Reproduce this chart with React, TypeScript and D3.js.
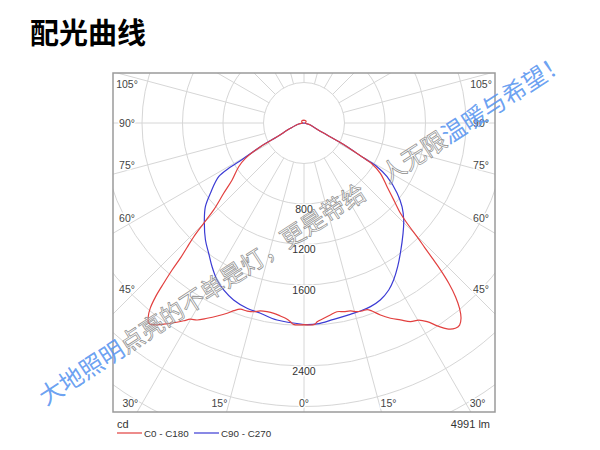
import React from "react";
import * as d3 from "d3";

// ---------- text ----------
const TITLE = "配光曲线";
const UNIT_LABEL = "cd";
const FLUX_LABEL = "4991 lm";
const SERIES_NAMES = ["C0 - C180", "C90 - C270"];
const SERIES_COLORS = ["#e2403f", "#3b3bd4"];
const WATERMARK_PARTS = [
  { text: "大地照明", kind: "blue" },
  { text: "点亮的不单是灯，更是带给　人无限", kind: "gray" },
  { text: "温暖与希望！", kind: "blue" },
];

// ---------- axes ----------
const RADIUS_TICK_LABELS = [800, 1200, 1600, 2400];
const GRID_CIRCLES = [400, 800, 1200, 1600, 2000, 2400, 2800, 3200, 3600];
const ANGLE_TICK_LABELS = [0, 15, 30, 45, 60, 75, 90, 105];
const SPOKE_ANGLES = [0, 15, 30, 45, 60, 75, 90, 105, 120, 135, 150, 165, 180, 195, 210, 225, 240, 255, 270, 285, 300, 315, 330, 345];

// ---------- data (gamma in degrees from nadir, intensity in cd) ----------
// C0 half-plane (right)
const C0_GAMMA = [0, 3, 3.8, 5.8, 7.8, 9.9, 11.9, 13.9, 15.7, 17.2, 18.7, 19.9, 21.7, 23.9, 26.1, 28.2, 30.2, 31.8, 33.3, 34.8, 36.4, 37.6, 38.8, 40.0, 41.1, 42.1, 42.9, 43.5, 44.1, 44.7, 45.8, 46.9, 49.4, 52.5, 56.6, 59.0, 59.6, 61.2, 61.9, 62.5, 64.3, 72.6, 90, 110, 140, 180];
const C0_CD = [1992, 1992, 1967, 1939, 1914, 1892, 1904, 1912, 1936, 1943, 1945, 1975, 2041, 2109, 2166, 2226, 2252, 2308, 2397, 2477, 2519, 2519, 2475, 2390, 2276, 2133, 1980, 1840, 1713, 1607, 1420, 1305, 1167, 1034, 903, 781, 685, 486, 371, 257, 143, 66, 8, 20, 28, 28];
// C180 half-plane (left)
const C180_GAMMA = [0, 3, 3.9, 5.4, 7.0, 9.0, 11.1, 13.1, 14.9, 16.8, 18.9, 20.5, 22.0, 24.2, 26.4, 28.5, 30.1, 31.3, 33.1, 34.9, 36.7, 37.8, 38.8, 39.7, 40.5, 41.2, 41.9, 42.5, 43.2, 44.1, 45.0, 46.1, 48.8, 51.6, 56.2, 58.9, 61.5, 63.0, 68.7, 79, 90, 110, 140, 180];
const C180_CD = [1992, 1992, 1967, 1938, 1920, 1903, 1899, 1906, 1929, 1940, 1944, 1979, 2027, 2090, 2153, 2214, 2240, 2286, 2355, 2421, 2487, 2503, 2455, 2377, 2258, 2104, 1951, 1800, 1690, 1564, 1401, 1238, 1054, 906, 776, 676, 490, 298, 144, 53, 8, 22, 30, 28];
// C90 half-plane (right)
const C90_GAMMA = [0, 3.7, 8.6, 13.6, 16.7, 19.9, 23.3, 26.9, 29.7, 33.1, 36.5, 41.9, 45.8, 49.5, 53.0, 57.1, 59.1, 59.6, 61.2, 61.9, 62.5, 64.3, 72.6, 90];
const C90_CD = [1990, 1989, 1961, 1944, 1939, 1929, 1904, 1850, 1786, 1694, 1600, 1465, 1374, 1274, 1152, 977, 841, 685, 486, 371, 257, 143, 66, 0];
// C270 half-plane (left)
const C270_GAMMA = [0, 7.8, 12.9, 17.1, 21.7, 25.7, 29.0, 32.6, 36.2, 40.1, 45.8, 49.7, 53.1, 57.8, 59.0, 59.3, 61.5, 63.0, 68.7, 79, 90];
const C270_CD = [1990, 1964, 1928, 1914, 1881, 1830, 1772, 1685, 1594, 1511, 1373, 1277, 1156, 996, 860, 740, 490, 298, 144, 53, 0];

// ---------- layout ----------
const W = 600;
const H = 450;
const BOX = { x0: 113, y0: 73, x1: 495, y1: 412 };
const CX = 304;
const CY = 123;
const LABEL_INSET_X = 14;
const LABEL_BOTTOM_Y = 403;

const rScale = d3.scaleLinear().domain([0, 2400]).range([0, 243]);
const rad = (deg: number) => (deg * Math.PI) / 180;

type Pt = [number, number];

function planePoints(rightG: number[], rightV: number[], leftG: number[], leftV: number[]): Pt[] {
  const pts: Pt[] = [];
  for (let i = leftG.length - 1; i >= 0; i--) pts.push([Math.PI + rad(leftG[i]), rScale(leftV[i])]);
  for (let i = 0; i < rightG.length; i++) pts.push([Math.PI - rad(rightG[i]), rScale(rightV[i])]);
  return pts;
}

const radialLine = d3
  .lineRadial<Pt>()
  .angle((d) => d[0])
  .radius((d) => d[1])
  .curve(d3.curveCatmullRom.alpha(0.5));

function angleLabelPos(angle: number, side: number) {
  let adj = angle;
  if (angle > 0 && angle < 90) adj = angle + 1.8;
  if (angle > 90) adj = angle - 2.5;
  const dx = side * Math.sin(rad(adj));
  const dy = Math.cos(rad(adj));
  const halfW = CX - BOX.x0 - LABEL_INSET_X;
  let t = Infinity;
  if (Math.abs(dx) > 1e-6) t = Math.min(t, halfW / Math.abs(dx));
  if (dy > 1e-6) t = Math.min(t, (LABEL_BOTTOM_Y - CY) / dy);
  return { x: CX + t * dx, y: CY + t * dy };
}

export default function App() {
  const redPath = radialLine(planePoints(C0_GAMMA, C0_CD, C180_GAMMA, C180_CD)) || "";
  const bluePath = radialLine(planePoints(C90_GAMMA, C90_CD, C270_GAMMA, C270_CD)) || "";
  const innerR = rScale(GRID_CIRCLES[0]);
  const outerR = 900;

  const angleLabels: { key: string; x: number; y: number; text: string }[] = [];
  ANGLE_TICK_LABELS.forEach((a) => {
    const sides = a === 0 ? [1] : [-1, 1];
    sides.forEach((s) => {
      const p = angleLabelPos(a, s);
      angleLabels.push({ key: `${a}_${s}`, x: p.x, y: p.y, text: `${a}°` });
    });
  });

  const labelFont = "'Liberation Sans', Arial, sans-serif";
  const cjkFont = "'Noto Sans CJK SC', 'Noto Sans', sans-serif";
  const wmAngle = -33;

  return (
    <svg width={W} height={H} viewBox={`0 0 ${W} ${H}`} style={{ position: "absolute", left: 0, top: 0, background: "#fff" }}>
      <defs>
        <clipPath id="boxclip">
          <rect x={BOX.x0} y={BOX.y0} width={BOX.x1 - BOX.x0} height={BOX.y1 - BOX.y0} />
        </clipPath>
      </defs>
      <rect x={0} y={0} width={W} height={H} fill="#fff" />
      <text x={30} y={44} fontFamily={cjkFont} fontWeight={700} fontSize={29} fill="#000">
        {TITLE}
      </text>

      <g clipPath="url(#boxclip)">
        {GRID_CIRCLES.map((v) => (
          <circle key={v} cx={CX} cy={CY} r={rScale(v)} fill="none" stroke="#d6d6d6" strokeWidth={1} />
        ))}
        {SPOKE_ANGLES.map((a) => {
          const dx = Math.sin(rad(a));
          const dy = Math.cos(rad(a));
          return (
            <line
              key={a}
              x1={CX + innerR * dx}
              y1={CY + innerR * dy}
              x2={CX + outerR * dx}
              y2={CY + outerR * dy}
              stroke="#d6d6d6"
              strokeWidth={1}
            />
          );
        })}
        {RADIUS_TICK_LABELS.map((v) => (
          <text
            key={v}
            x={CX}
            y={CY + rScale(v) + 4.5}
            textAnchor="middle"
            dominantBaseline="central"
            fontFamily={labelFont}
            fontSize={10.5}
            fill="#333"
            stroke="#fff"
            strokeWidth={3}
            paintOrder="stroke"
          >
            {v}
          </text>
        ))}
        {angleLabels.map((l) => (
          <text
            key={l.key}
            x={l.x}
            y={l.y}
            textAnchor="middle"
            dominantBaseline="central"
            fontFamily={labelFont}
            fontSize={10.5}
            fill="#444"
            stroke="#fff"
            strokeWidth={3}
            paintOrder="stroke"
          >
            {l.text}
          </text>
        ))}
        <g transform={`translate(${CX},${CY})`}>
          <path d={bluePath} fill="none" stroke={SERIES_COLORS[1]} strokeWidth={1.2} />
          <path d={redPath} fill="none" stroke={SERIES_COLORS[0]} strokeWidth={1.2} />
        </g>
      </g>
      <rect
        x={BOX.x0}
        y={BOX.y0}
        width={BOX.x1 - BOX.x0}
        height={BOX.y1 - BOX.y0}
        fill="none"
        stroke="#9a9a9a"
        strokeWidth={1.5}
      />

      {/* legend */}
      <text x={117} y={424} dominantBaseline="central" fontFamily={labelFont} fontSize={11} fill="#333">
        {UNIT_LABEL}
      </text>
      <text x={490} y={424} textAnchor="end" dominantBaseline="central" fontFamily={labelFont} fontSize={11} fill="#333">
        {FLUX_LABEL}
      </text>
      {SERIES_NAMES.map((name, i) => {
        const x0 = 117 + i * 77;
        return (
          <g key={name}>
            <line x1={x0} y1={433} x2={x0 + 25} y2={433} stroke={SERIES_COLORS[i]} strokeWidth={1.2} />
            <text x={x0 + 27} y={433} dominantBaseline="central" fontFamily={labelFont} fontSize={9.8} fill="#333">
              {name}
            </text>
          </g>
        );
      })}

      {/* watermark */}
      <g transform={`translate(40,397) rotate(${wmAngle})`}>
        <text x={0} y={0} dominantBaseline="central" fontFamily={cjkFont} fontSize={24}>
          {WATERMARK_PARTS.map((p, i) =>
            p.kind === "blue" ? (
              <tspan key={i} fill="#5a96f0" fillOpacity={0.9}>
                {p.text}
              </tspan>
            ) : (
              <tspan key={i} fill="#ffffff" fillOpacity={0.25} stroke="#8c8c8c" strokeWidth={0.7}>
                {p.text}
              </tspan>
            )
          )}
        </text>
      </g>
    </svg>
  );
}
